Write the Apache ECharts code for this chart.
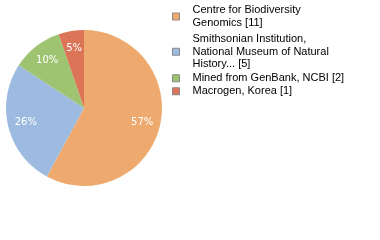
<!DOCTYPE html>
<html>
<head>
<meta charset="utf-8">
<script src="https://cdn.jsdelivr.net/npm/echarts@6/dist/echarts.min.js"></script>
<style>
  html, body { margin: 0; padding: 0; background: #fff; }
  #chart { width: 380px; height: 240px; }
</style>
</head>
<body>
<div id="chart"></div>
<script>
// data
const sources = [
  "Centre for Biodiversity\nGenomics [11]",
  "Smithsonian Institution,\nNational Museum of Natural\nHistory... [5]",
  "Mined from GenBank, NCBI [2]",
  "Macrogen, Korea [1]",
];
const counts = [11, 5, 2, 1];
const colors = ["#EEAA6E", "#9DBBE0", "#9EC472", "#DC7558"];

const total = counts.reduce((a, b) => a + b, 0);
const pieData = sources.map((name, i) => ({
  name,
  value: counts[i],
  itemStyle: { color: colors[i] },
}));

// one legend per item so the spacing follows the picture
const legendTops = [4, 33, 72, 85];
const legends = sources.map((name, i) => ({
  data: [name],
  orient: "vertical",
  left: 172,
  top: legendTops[i],
  padding: 0,
  icon: "rect",
  itemWidth: 7,
  itemHeight: 7,
  itemStyle: { borderColor: "#888", borderWidth: 1 },
  selectedMode: false,
  textStyle: {
    fontFamily: "Liberation Sans",
    fontSize: 11,
    color: "#000",
    lineHeight: 12.5,
    padding: [0, 0, 0, 8],
  },
}));

const chart = echarts.init(document.getElementById("chart"));
chart.setOption({
  animation: false,
  legend: legends,
  series: [
    {
      type: "pie",
      center: [84, 108],
      radius: [0, 78],
      startAngle: 90,
      label: { show: false },
      labelLine: { show: false },
      emphasis: { disabled: true },
      data: pieData,
    },
    {
      // transparent ring just to place the percentage labels
      type: "pie",
      center: [84, 108],
      radius: [37, 77],
      startAngle: 90,
      silent: true,
      legendHoverLink: false,
      itemStyle: { color: "transparent" },
      label: {
        show: true,
        position: "inside",
        color: "#fff",
        fontFamily: "DejaVu Sans",
        fontSize: 10,
        formatter: (p) => Math.floor((p.value / total) * 100) + "%",
      },
      labelLine: { show: false },
      emphasis: { disabled: true },
      data: counts.map((v, i) => ({ name: sources[i], value: v })),
    },
  ],
});
</script>
</body>
</html>
